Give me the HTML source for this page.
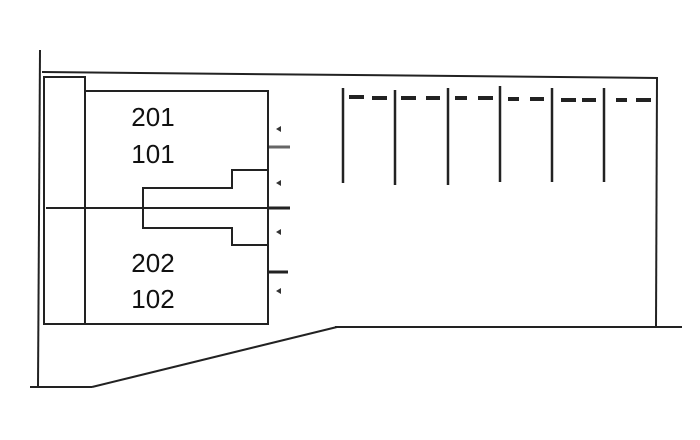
<!DOCTYPE html>
<html><head><meta charset="utf-8"><style>
html,body{margin:0;padding:0;background:#fff;}
svg{display:block;}
text{font-family:"Liberation Sans",sans-serif;font-size:26px;fill:#111;}
</style></head><body>
<svg width="700" height="440" viewBox="0 0 700 440" xmlns="http://www.w3.org/2000/svg">
<g stroke="#222" stroke-width="2" fill="none">
<line x1="40" y1="50" x2="38" y2="387"/>
<line x1="30" y1="387" x2="92" y2="387"/>
<line x1="92" y1="387" x2="337" y2="327"/>
<line x1="335" y1="327" x2="682" y2="327"/>
<line x1="42" y1="72" x2="658" y2="78"/>
<line x1="657" y1="78" x2="656" y2="327"/>
<rect x="44" y="77" width="41" height="247"/>
<polyline points="85,91 268,91 268,324 44,324"/>
<line x1="46" y1="208" x2="268" y2="208"/>
<polyline points="268,170 232,170 232,188 143,188 143,228 232,228 232,245 268,245"/>
</g>
<g stroke="#222" stroke-width="3">
<line x1="268" y1="208" x2="290" y2="208"/>
<line x1="268" y1="272" x2="288" y2="272"/>
</g>
<line x1="269" y1="147" x2="290" y2="147" stroke="#666" stroke-width="3"/>
<g fill="#333">
<polygon points="276,129 281,126 281,132"/>
<polygon points="276,183 281,180 281,186"/>
<polygon points="276,232 281,229 281,235"/>
<polygon points="276,291 281,288 281,294"/>
</g>
<text x="153" y="126" text-anchor="middle">201</text>
<text x="153" y="163" text-anchor="middle">101</text>
<text x="153" y="272" text-anchor="middle">202</text>
<text x="153" y="308" text-anchor="middle">102</text>
<g stroke="#222" stroke-width="2.5">
<line x1="343" y1="88" x2="343" y2="183"/>
<line x1="395" y1="90" x2="395" y2="185"/>
<line x1="448" y1="88" x2="448" y2="185"/>
<line x1="500" y1="86" x2="500" y2="182"/>
<line x1="552" y1="88" x2="552" y2="182"/>
<line x1="604" y1="88" x2="604" y2="182"/>
</g>
<g stroke="#222" stroke-width="4">
<line x1="349" y1="97" x2="364" y2="97"/><line x1="372" y1="98" x2="387" y2="98"/>
<line x1="401" y1="98" x2="416" y2="98"/><line x1="426" y1="98" x2="440" y2="98"/>
<line x1="455" y1="98" x2="467" y2="98"/><line x1="478" y1="98" x2="493" y2="98"/>
<line x1="508" y1="99" x2="519" y2="99"/><line x1="530" y1="99" x2="544" y2="99"/>
<line x1="561" y1="100" x2="576" y2="100"/><line x1="582" y1="100" x2="596" y2="100"/>
<line x1="616" y1="100" x2="627" y2="100"/><line x1="636" y1="100" x2="651" y2="100"/>
</g>
</svg>
</body></html>
